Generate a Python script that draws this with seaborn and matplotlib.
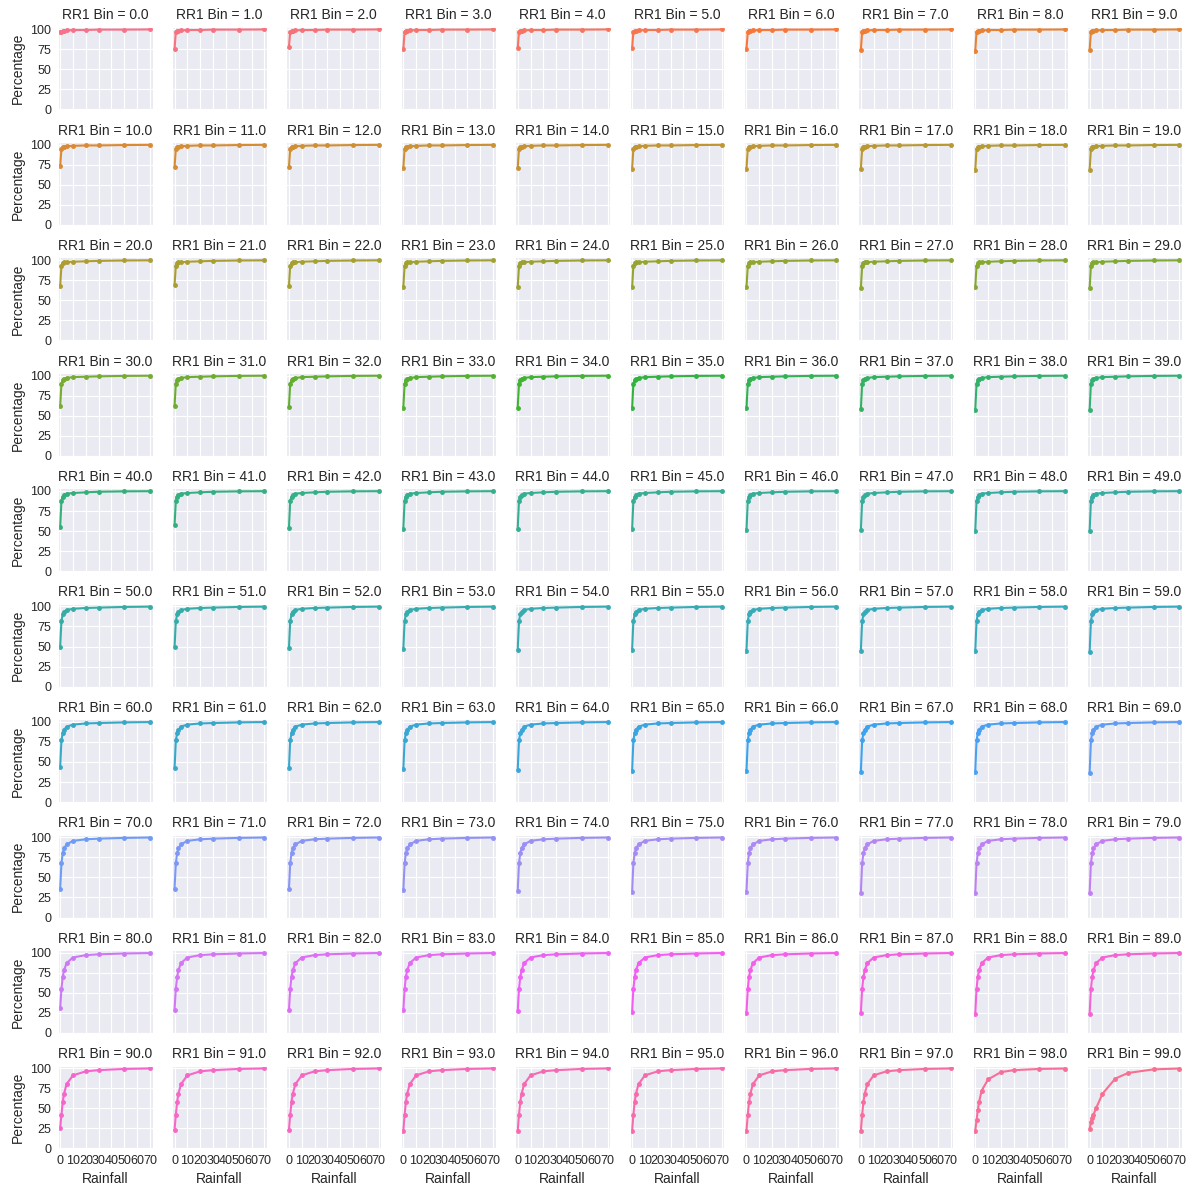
import numpy as np
import pandas as pd
import seaborn as sns
import matplotlib.pyplot as plt

rainfall = [0, 1, 2, 3, 5, 10, 20, 30, 50, 70]
bins = [float(b) for b in range(100)]

# percentage at rainfall 0, read per panel
start = [96, 75, 78, 75, 76, 76, 75, 74, 73, 74,
         73, 72, 72, 71, 71, 70, 70, 70, 68, 69,
         68, 69, 68, 67, 66, 66, 66, 65, 66, 65,
         62, 62, 61, 60, 60, 59, 59, 58, 57, 57,
         55, 57, 54, 53, 53, 52, 51, 51, 50, 50,
         50, 49, 48, 47, 46, 46, 45, 45, 44, 43,
         44, 42, 42, 41, 40, 39, 39, 38, 38, 36,
         36, 36, 35, 34, 33, 32, 32, 31, 31, 30,
         31, 29, 28, 28, 27, 26, 25, 25, 24, 24,
         25, 23, 23, 22, 22, 22, 22, 22, 22, 24]

# percentage at rainfall 1..70, read per row of panels
row_tails = [
    [97, 98, 98, 98.5, 99, 99, 99.5, 99.5, 99.7],
    [95, 97, 97.5, 98, 98.5, 99, 99, 99.5, 99.7],
    [93, 96, 97, 97.5, 98, 98.5, 99, 99.5, 99.7],
    [90, 94, 96, 97, 98, 98.5, 99, 99.5, 99.7],
    [88, 93, 95, 96.5, 97.5, 98.3, 99, 99.5, 99.7],
    [82, 90, 93, 95.5, 97, 98, 98.5, 99.3, 99.7],
    [77, 86, 90, 94, 96.5, 98, 98.5, 99.3, 99.7],
    [68, 80, 86, 91, 95.5, 97.5, 98.3, 99.2, 99.7],
    [55, 70, 78, 87, 94, 97, 98, 99, 99.6],
    [42, 58, 68, 80, 91, 96, 97.5, 99, 99.6],
]
bin98 = [22, 35, 48, 58, 72, 86, 95, 97.5, 99, 99.5]
bin99 = [24, 33, 38, 42, 50, 68, 87, 94, 98.5, 99.5]

rows = []
for i, b in enumerate(bins):
    if i == 98:
        vals = bin98
    elif i == 99:
        vals = bin99
    else:
        vals = [start[i]] + row_tails[i // 10]
    for x, v in zip(rainfall, vals):
        rows.append({"RR1 Bin": b, "Rainfall": x, "Percentage": v})
df = pd.DataFrame(rows)

sns.set_style("darkgrid")
plt.rcParams["font.family"] = ["Liberation Sans", "DejaVu Sans"]

g = sns.FacetGrid(df, col="RR1 Bin", col_wrap=10, hue="RR1 Bin",
                  palette=sns.color_palette("husl", 100),
                  height=1.2, aspect=1, sharex=True, sharey=True)
g.map(plt.plot, "Rainfall", "Percentage", marker="o", ms=2.5, lw=1.5)
g.set_titles("RR1 Bin = {col_name}", size=10)
g.set(xlim=(-2, 72), ylim=(0, 102), xticks=range(0, 71, 10),
      yticks=[0, 25, 50, 75, 100])
for ax in g.axes.flat:
    ax.tick_params(labelsize=9, pad=1)
    ax.xaxis.label.set_size(10)
    ax.yaxis.label.set_size(10)
g.fig.set_size_inches(12, 12)
g.fig.subplots_adjust(left=0.048, right=0.985, bottom=0.043, top=0.977,
                      wspace=0.205, hspace=0.41)
g.fig.savefig("out.png", dpi=100)
